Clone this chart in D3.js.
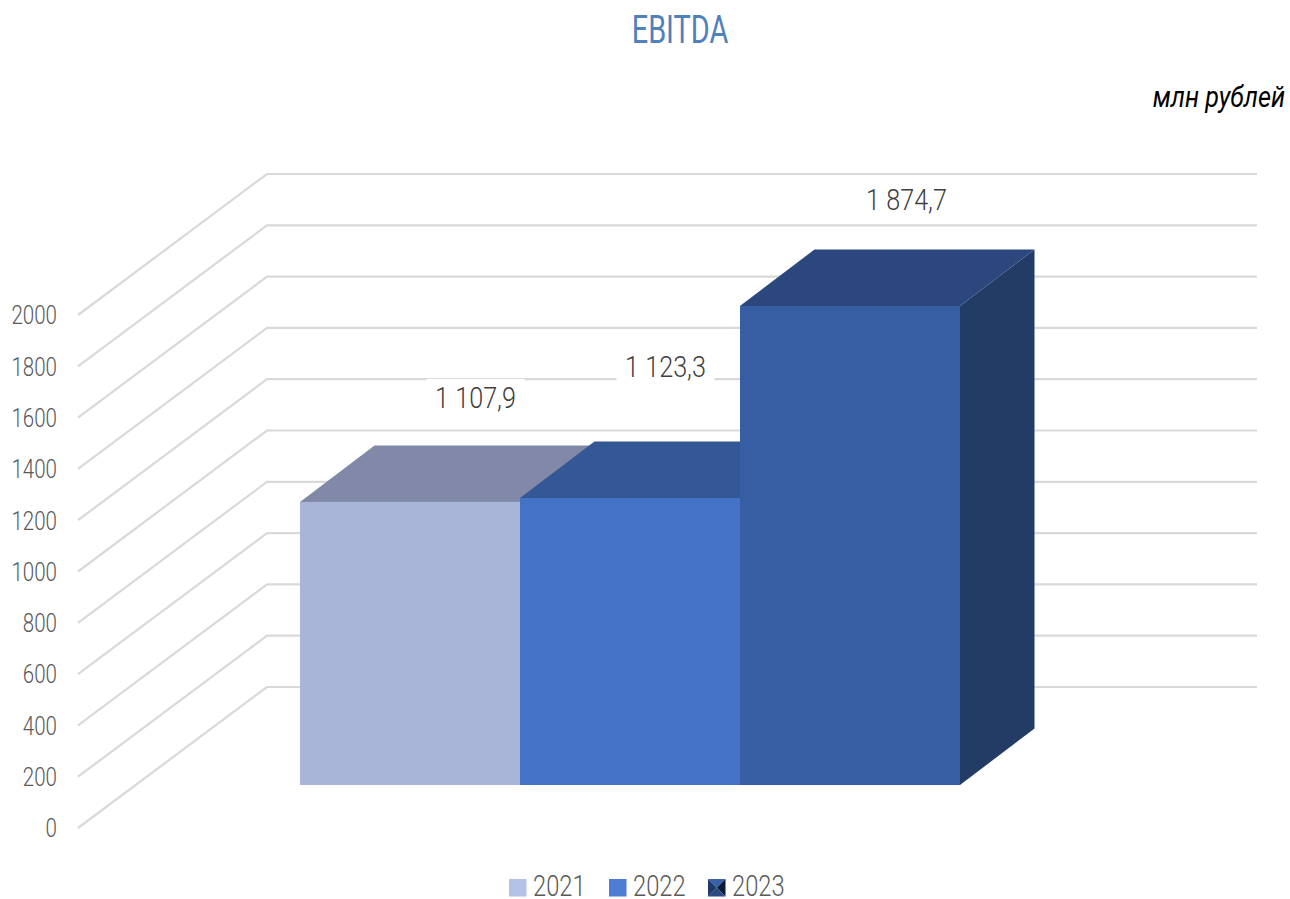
<!DOCTYPE html>
<html><head><meta charset="utf-8">
<script src="https://cdn.jsdelivr.net/npm/d3@7"></script>
<style>html,body{margin:0;padding:0;background:#fff}svg{display:block}text{font-family:Roboto,"Liberation Sans",sans-serif}</style>
</head><body><svg id="c" width="1290" height="899"></svg>
<script>
const years = ["2021","2022","2023"];
const values = [1107.9,1123.3,1874.7];
const valueLabels = ["1 107,9","1 123,3","1 874,7"];
const ticks = [0,200,400,600,800,1000,1200,1400,1600,1800,2000];
const frontColors = ["#a8b5d9","#4472c6","#375da2"];
const topColors = ["#8289a8","#345795","#2b477d"];
const sideColors = ["#6f7c9e","#2d4f8c","#233c66"];
const legendColors = ["#b4c2e8","#4f7dd3","#375da2"];

const svg = d3.select("#c");
const W = {x0:267,x1:1257,base:687,top:174,dx:-189,dy:141};
const wallY = d3.scaleLinear().domain([0,2000]).range([W.base,W.top]);
const barY = d3.scaleLinear().domain([0,2000]).range([785,274]);
const barX = d3.scaleBand().domain(years).range([300,960]);
const D = {dx:74.5,dy:-56.5};

function label(x,y,str,o){
  const g = svg.append("g").attr("transform",`translate(${x},${y}) scale(${o.sx||1},1)`);
  return g.append("text").text(str).attr("font-size",o.size).attr("font-weight",o.weight||300)
    .attr("font-style",o.style||"normal").attr("fill",o.fill).attr("text-anchor",o.anchor||"middle")
    .attr("dominant-baseline","central");
}
// walls
const grid = svg.append("g").attr("fill","none").attr("stroke","#d9d9d9").attr("stroke-width",2.2);
grid.selectAll("path").data(ticks).join("path")
  .attr("d",t=>`M${W.x0+W.dx},${wallY(t)+W.dy}L${W.x0},${wallY(t)}L${W.x1},${wallY(t)}`);
// axis labels
ticks.forEach(t=>label(57,wallY(t)+W.dy+0.5,String(t),{size:26,sx:.79,fill:"#595959",anchor:"end"}));
// bars
const pts=a=>a.map(p=>p.join(",")).join(" ");
const bars = svg.append("g");
years.forEach((y,i)=>{
  const x0=barX(y),x1=x0+barX.bandwidth(),t=barY(values[i]),b=barY(0);
  bars.append("polygon").attr("fill",sideColors[i]).attr("points",pts([[x1,b],[x1+D.dx,b+D.dy],[x1+D.dx,t+D.dy],[x1,t]]));
  bars.append("polygon").attr("fill",topColors[i]).attr("points",pts([[x0,t],[x1,t],[x1+D.dx,t+D.dy],[x0+D.dx,t+D.dy]]));
  bars.append("rect").attr("fill",frontColors[i]).attr("x",x0).attr("y",t).attr("width",x1-x0).attr("height",b-t);
});
// data labels
const labelX=[475.5,665.5,906.5], labelOff=[-104,-131,-106];
years.forEach((y,i)=>{
  const cy=barY(values[i])+labelOff[i];
  svg.append("rect").attr("fill","#fff").attr("x",labelX[i]-49).attr("y",cy-19).attr("width",98).attr("height",38);
  label(labelX[i],cy,valueLabels[i],{size:30,sx:.84,fill:"#404040"});
});
// title, unit
label(680,30,"EBITDA",{size:38,sx:.76,weight:400,fill:"#4f81bd"});
label(1285,97,"млн рублей",{size:30,sx:.84,style:"italic",weight:400,fill:"#000",anchor:"end"});
// legend
const legendX=[509,609,708];
years.forEach((y,i)=>{
  const x=legendX[i],yy=879,s=17.5;
  if(i<2){svg.append("rect").attr("x",x).attr("y",yy).attr("width",s).attr("height",s).attr("fill",legendColors[i]);}
  else{
    const c=[x+s/2,yy+s/2],a=[x,yy],b=[x+s,yy],d=[x+s,yy+s],e=[x,yy+s];
    [[a,b,"#3a62a8"],[b,d,"#0c1c38"],[d,e,"#2a4a82"],[e,a,"#1e3a6c"]].forEach(q=>
      svg.append("polygon").attr("points",pts([q[0],q[1],c])).attr("fill",q[2]));
  }
  label(x+24,886,y,{size:30,sx:.79,fill:"#595959",anchor:"start"});
});
</script></body></html>
